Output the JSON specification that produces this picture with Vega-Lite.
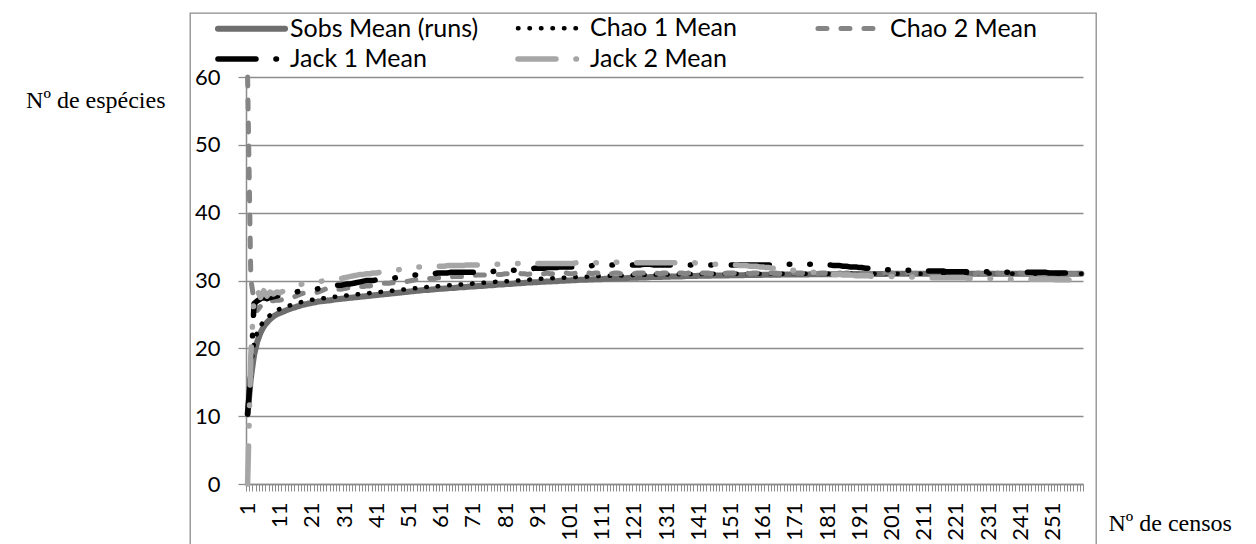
{
  "$schema": "https://vega.github.io/schema/vega-lite/v6.json",
  "width": 906,
  "height": 560,
  "autosize": {"type": "none"},
  "padding": {"left": 190, "top": 13, "right": 160, "bottom": 0},
  "background": "white",
  "config": {
    "view": {"stroke": "#8c8c8c", "strokeWidth": 1.3},
    "font": "Lato"
  },
  "data": {
    "values": [
      {"censo":1,"sobs":10.3,"chao1":10.3,"chao2":60,"jack1":10.3,"jack2":0},
      {"censo":2,"sobs":15.6,"chao1":17.5,"chao2":30.2,"jack1":16.5,"jack2":19.0},
      {"censo":3,"sobs":19.0,"chao1":20.8,"chao2":27.0,"jack1":26.6,"jack2":27.6},
      {"censo":4,"sobs":21.0,"chao1":22.4,"chao2":25.6,"jack1":27.0,"jack2":28.6},
      {"censo":5,"sobs":22.3,"chao1":23.3,"chao2":26.2,"jack1":27.3,"jack2":27.5},
      {"censo":6,"sobs":23.2,"chao1":24.0,"chao2":26.6,"jack1":27.5,"jack2":28.5},
      {"censo":7,"sobs":23.8,"chao1":24.5,"chao2":26.9,"jack1":27.3,"jack2":27.7},
      {"censo":8,"sobs":24.3,"chao1":24.9,"chao2":27.0,"jack1":27.5,"jack2":28.3},
      {"censo":9,"sobs":24.7,"chao1":25.3,"chao2":27.0,"jack1":27.6,"jack2":28.0},
      {"censo":10,"sobs":25.0,"chao1":25.6,"chao2":27.1,"jack1":27.7,"jack2":28.3},
      {"censo":11,"sobs":25.2,"chao1":25.8,"chao2":27.1,"jack1":27.8,"jack2":28.2},
      {"censo":12,"sobs":25.4,"chao1":26.0,"chao2":27.2,"jack1":27.9,"jack2":28.4},
      {"censo":13,"sobs":25.6,"chao1":26.2,"chao2":27.3,"jack1":28.0,"jack2":28.5},
      {"censo":14,"sobs":25.8,"chao1":26.3,"chao2":27.3,"jack1":28.1,"jack2":28.7},
      {"censo":15,"sobs":25.95,"chao1":26.45,"chao2":27.5,"jack1":28.2,"jack2":28.9},
      {"censo":16,"sobs":26.1,"chao1":26.6,"chao2":27.7,"jack1":28.3,"jack2":29.1},
      {"censo":17,"sobs":26.25,"chao1":26.75,"chao2":27.9,"jack1":28.4,"jack2":29.3},
      {"censo":18,"sobs":26.4,"chao1":26.85,"chao2":28.1,"jack1":28.5,"jack2":29.5},
      {"censo":19,"sobs":26.5,"chao1":26.95,"chao2":28.2,"jack1":28.5,"jack2":29.6},
      {"censo":20,"sobs":26.6,"chao1":27.05,"chao2":28.2,"jack1":28.6,"jack2":29.7},
      {"censo":21,"sobs":26.7,"chao1":27.15,"chao2":28.3,"jack1":28.7,"jack2":29.8},
      {"censo":22,"sobs":26.8,"chao1":27.2,"chao2":28.2,"jack1":28.7,"jack2":29.8},
      {"censo":23,"sobs":26.9,"chao1":27.3,"chao2":28.3,"jack1":28.8,"jack2":29.9},
      {"censo":24,"sobs":26.95,"chao1":27.35,"chao2":28.5,"jack1":28.8,"jack2":29.9},
      {"censo":25,"sobs":27.0,"chao1":27.4,"chao2":28.7,"jack1":28.9,"jack2":30.0},
      {"censo":26,"sobs":27.05,"chao1":27.5,"chao2":28.9,"jack1":29.0,"jack2":30.0},
      {"censo":27,"sobs":27.1,"chao1":27.55,"chao2":28.9,"jack1":29.1,"jack2":30.1},
      {"censo":28,"sobs":27.2,"chao1":27.6,"chao2":28.8,"jack1":29.2,"jack2":30.2},
      {"censo":29,"sobs":27.25,"chao1":27.65,"chao2":28.7,"jack1":29.3,"jack2":30.3},
      {"censo":30,"sobs":27.3,"chao1":27.7,"chao2":28.7,"jack1":29.3,"jack2":30.3},
      {"censo":31,"sobs":27.35,"chao1":27.75,"chao2":28.8,"jack1":29.4,"jack2":30.4},
      {"censo":32,"sobs":27.4,"chao1":27.8,"chao2":28.9,"jack1":29.5,"jack2":30.5},
      {"censo":33,"sobs":27.45,"chao1":27.85,"chao2":29.0,"jack1":29.5,"jack2":30.6},
      {"censo":34,"sobs":27.5,"chao1":27.9,"chao2":29.0,"jack1":29.6,"jack2":30.7},
      {"censo":35,"sobs":27.55,"chao1":27.95,"chao2":29.0,"jack1":29.7,"jack2":30.8},
      {"censo":36,"sobs":27.6,"chao1":28.0,"chao2":29.1,"jack1":29.8,"jack2":30.9},
      {"censo":37,"sobs":27.65,"chao1":28.05,"chao2":29.1,"jack1":29.9,"jack2":30.9},
      {"censo":38,"sobs":27.7,"chao1":28.1,"chao2":29.2,"jack1":30.0,"jack2":31.0},
      {"censo":39,"sobs":27.75,"chao1":28.15,"chao2":29.2,"jack1":30.0,"jack2":31.0},
      {"censo":40,"sobs":27.8,"chao1":28.2,"chao2":29.3,"jack1":30.0,"jack2":31.1},
      {"censo":41,"sobs":27.85,"chao1":28.25,"chao2":29.4,"jack1":30.1,"jack2":31.1},
      {"censo":42,"sobs":27.9,"chao1":28.3,"chao2":29.5,"jack1":30.1,"jack2":31.2},
      {"censo":43,"sobs":27.95,"chao1":28.35,"chao2":29.6,"jack1":30.1,"jack2":31.2},
      {"censo":44,"sobs":28.0,"chao1":28.4,"chao2":29.6,"jack1":30.2,"jack2":31.3},
      {"censo":45,"sobs":28.05,"chao1":28.45,"chao2":29.6,"jack1":30.2,"jack2":31.3},
      {"censo":46,"sobs":28.1,"chao1":28.5,"chao2":29.7,"jack1":30.3,"jack2":31.4},
      {"censo":47,"sobs":28.15,"chao1":28.55,"chao2":29.6,"jack1":30.4,"jack2":31.5},
      {"censo":48,"sobs":28.2,"chao1":28.6,"chao2":29.6,"jack1":30.5,"jack2":31.6},
      {"censo":49,"sobs":28.25,"chao1":28.65,"chao2":29.7,"jack1":30.6,"jack2":31.7},
      {"censo":50,"sobs":28.3,"chao1":28.7,"chao2":29.8,"jack1":30.6,"jack2":31.8},
      {"censo":51,"sobs":28.35,"chao1":28.75,"chao2":29.9,"jack1":30.7,"jack2":31.8},
      {"censo":52,"sobs":28.4,"chao1":28.8,"chao2":30.0,"jack1":30.7,"jack2":31.9},
      {"censo":53,"sobs":28.45,"chao1":28.85,"chao2":30.1,"jack1":30.8,"jack2":31.9},
      {"censo":54,"sobs":28.5,"chao1":28.9,"chao2":30.1,"jack1":30.8,"jack2":32.0},
      {"censo":55,"sobs":28.55,"chao1":28.95,"chao2":30.2,"jack1":30.9,"jack2":32.0},
      {"censo":56,"sobs":28.6,"chao1":29.0,"chao2":30.2,"jack1":30.9,"jack2":32.0},
      {"censo":57,"sobs":28.6,"chao1":29.05,"chao2":30.3,"jack1":31.0,"jack2":32.1},
      {"censo":58,"sobs":28.65,"chao1":29.1,"chao2":30.3,"jack1":31.0,"jack2":32.1},
      {"censo":59,"sobs":28.7,"chao1":29.1,"chao2":30.3,"jack1":31.0,"jack2":32.1},
      {"censo":60,"sobs":28.75,"chao1":29.15,"chao2":30.4,"jack1":31.1,"jack2":32.1},
      {"censo":61,"sobs":28.8,"chao1":29.2,"chao2":30.4,"jack1":31.1,"jack2":32.1},
      {"censo":62,"sobs":28.8,"chao1":29.25,"chao2":30.5,"jack1":31.1,"jack2":32.1},
      {"censo":63,"sobs":28.85,"chao1":29.3,"chao2":30.5,"jack1":31.1,"jack2":32.2},
      {"censo":64,"sobs":28.9,"chao1":29.3,"chao2":30.5,"jack1":31.2,"jack2":32.2},
      {"censo":65,"sobs":28.9,"chao1":29.35,"chao2":30.6,"jack1":31.2,"jack2":32.2},
      {"censo":66,"sobs":28.95,"chao1":29.4,"chao2":30.6,"jack1":31.2,"jack2":32.2},
      {"censo":67,"sobs":29.0,"chao1":29.4,"chao2":30.6,"jack1":31.2,"jack2":32.2},
      {"censo":68,"sobs":29.0,"chao1":29.45,"chao2":30.6,"jack1":31.2,"jack2":32.2},
      {"censo":69,"sobs":29.05,"chao1":29.5,"chao2":30.7,"jack1":31.2,"jack2":32.3},
      {"censo":70,"sobs":29.1,"chao1":29.5,"chao2":30.7,"jack1":31.2,"jack2":32.3},
      {"censo":71,"sobs":29.1,"chao1":29.55,"chao2":30.7,"jack1":31.2,"jack2":32.3},
      {"censo":72,"sobs":29.15,"chao1":29.6,"chao2":30.8,"jack1":31.2,"jack2":32.3},
      {"censo":73,"sobs":29.2,"chao1":29.6,"chao2":30.8,"jack1":31.3,"jack2":32.3},
      {"censo":74,"sobs":29.2,"chao1":29.65,"chao2":30.8,"jack1":31.3,"jack2":32.3},
      {"censo":75,"sobs":29.25,"chao1":29.7,"chao2":30.8,"jack1":31.3,"jack2":32.3},
      {"censo":76,"sobs":29.3,"chao1":29.7,"chao2":30.9,"jack1":31.3,"jack2":32.4},
      {"censo":77,"sobs":29.3,"chao1":29.75,"chao2":30.9,"jack1":31.3,"jack2":32.4},
      {"censo":78,"sobs":29.35,"chao1":29.8,"chao2":30.9,"jack1":31.4,"jack2":32.4},
      {"censo":79,"sobs":29.4,"chao1":29.8,"chao2":30.9,"jack1":31.4,"jack2":32.4},
      {"censo":80,"sobs":29.4,"chao1":29.85,"chao2":30.9,"jack1":31.4,"jack2":32.4},
      {"censo":81,"sobs":29.45,"chao1":29.9,"chao2":31.0,"jack1":31.4,"jack2":32.4},
      {"censo":82,"sobs":29.5,"chao1":29.9,"chao2":31.0,"jack1":31.5,"jack2":32.4},
      {"censo":83,"sobs":29.5,"chao1":29.95,"chao2":30.9,"jack1":31.5,"jack2":32.5},
      {"censo":84,"sobs":29.55,"chao1":30.0,"chao2":31.0,"jack1":31.5,"jack2":32.5},
      {"censo":85,"sobs":29.6,"chao1":30.0,"chao2":31.1,"jack1":31.6,"jack2":32.5},
      {"censo":86,"sobs":29.6,"chao1":30.05,"chao2":31.0,"jack1":31.6,"jack2":32.5},
      {"censo":87,"sobs":29.65,"chao1":30.1,"chao2":31.0,"jack1":31.7,"jack2":32.4},
      {"censo":88,"sobs":29.7,"chao1":30.1,"chao2":30.9,"jack1":31.7,"jack2":32.5},
      {"censo":89,"sobs":29.7,"chao1":30.15,"chao2":31.0,"jack1":31.7,"jack2":32.5},
      {"censo":90,"sobs":29.75,"chao1":30.2,"chao2":31.0,"jack1":31.8,"jack2":32.5},
      {"censo":91,"sobs":29.75,"chao1":30.2,"chao2":31.1,"jack1":31.8,"jack2":32.5},
      {"censo":92,"sobs":29.8,"chao1":30.25,"chao2":31.0,"jack1":31.8,"jack2":32.5},
      {"censo":93,"sobs":29.8,"chao1":30.25,"chao2":31.0,"jack1":31.8,"jack2":32.5},
      {"censo":94,"sobs":29.85,"chao1":30.3,"chao2":31.1,"jack1":31.9,"jack2":32.5},
      {"censo":95,"sobs":29.85,"chao1":30.3,"chao2":31.0,"jack1":31.9,"jack2":32.5},
      {"censo":96,"sobs":29.9,"chao1":30.35,"chao2":31.0,"jack1":31.9,"jack2":32.5},
      {"censo":97,"sobs":29.9,"chao1":30.35,"chao2":31.1,"jack1":31.9,"jack2":32.5},
      {"censo":98,"sobs":29.95,"chao1":30.4,"chao2":31.0,"jack1":32.0,"jack2":32.5},
      {"censo":99,"sobs":29.95,"chao1":30.4,"chao2":31.0,"jack1":32.0,"jack2":32.5},
      {"censo":100,"sobs":30.0,"chao1":30.45,"chao2":31.1,"jack1":32.0,"jack2":32.5},
      {"censo":101,"sobs":30.0,"chao1":30.45,"chao2":31.0,"jack1":32.0,"jack2":32.5},
      {"censo":102,"sobs":30.05,"chao1":30.5,"chao2":31.0,"jack1":32.0,"jack2":32.5},
      {"censo":103,"sobs":30.05,"chao1":30.5,"chao2":31.1,"jack1":32.1,"jack2":32.6},
      {"censo":104,"sobs":30.1,"chao1":30.5,"chao2":31.0,"jack1":32.1,"jack2":32.6},
      {"censo":105,"sobs":30.1,"chao1":30.55,"chao2":31.0,"jack1":32.1,"jack2":32.6},
      {"censo":106,"sobs":30.1,"chao1":30.55,"chao2":31.1,"jack1":32.1,"jack2":32.6},
      {"censo":107,"sobs":30.15,"chao1":30.6,"chao2":31.1,"jack1":32.1,"jack2":32.6},
      {"censo":108,"sobs":30.15,"chao1":30.6,"chao2":31.0,"jack1":32.2,"jack2":32.6},
      {"censo":109,"sobs":30.2,"chao1":30.6,"chao2":31.1,"jack1":32.2,"jack2":32.6},
      {"censo":110,"sobs":30.2,"chao1":30.65,"chao2":31.1,"jack1":32.2,"jack2":32.6},
      {"censo":111,"sobs":30.2,"chao1":30.65,"chao2":31.0,"jack1":32.2,"jack2":32.6},
      {"censo":112,"sobs":30.25,"chao1":30.65,"chao2":31.1,"jack1":32.2,"jack2":32.6},
      {"censo":113,"sobs":30.25,"chao1":30.7,"chao2":31.1,"jack1":32.2,"jack2":32.6},
      {"censo":114,"sobs":30.3,"chao1":30.7,"chao2":31.0,"jack1":32.3,"jack2":32.7},
      {"censo":115,"sobs":30.3,"chao1":30.7,"chao2":31.1,"jack1":32.3,"jack2":32.7},
      {"censo":116,"sobs":30.3,"chao1":30.72,"chao2":31.1,"jack1":32.3,"jack2":32.7},
      {"censo":117,"sobs":30.35,"chao1":30.74,"chao2":31.0,"jack1":32.3,"jack2":32.6},
      {"censo":118,"sobs":30.35,"chao1":30.75,"chao2":31.1,"jack1":32.3,"jack2":32.6},
      {"censo":119,"sobs":30.35,"chao1":30.76,"chao2":31.1,"jack1":32.3,"jack2":32.6},
      {"censo":120,"sobs":30.4,"chao1":30.78,"chao2":31.1,"jack1":32.3,"jack2":32.6},
      {"censo":121,"sobs":30.4,"chao1":30.8,"chao2":31.0,"jack1":32.3,"jack2":32.6},
      {"censo":122,"sobs":30.4,"chao1":30.8,"chao2":31.1,"jack1":32.3,"jack2":32.6},
      {"censo":123,"sobs":30.45,"chao1":30.82,"chao2":31.1,"jack1":32.3,"jack2":32.6},
      {"censo":124,"sobs":30.45,"chao1":30.83,"chao2":31.1,"jack1":32.4,"jack2":32.6},
      {"censo":125,"sobs":30.45,"chao1":30.84,"chao2":31.0,"jack1":32.4,"jack2":32.6},
      {"censo":126,"sobs":30.5,"chao1":30.85,"chao2":31.1,"jack1":32.4,"jack2":32.6},
      {"censo":127,"sobs":30.5,"chao1":30.86,"chao2":31.1,"jack1":32.3,"jack2":32.6},
      {"censo":128,"sobs":30.5,"chao1":30.87,"chao2":31.1,"jack1":32.3,"jack2":32.6},
      {"censo":129,"sobs":30.5,"chao1":30.88,"chao2":31.0,"jack1":32.3,"jack2":32.6},
      {"censo":130,"sobs":30.55,"chao1":30.89,"chao2":31.1,"jack1":32.3,"jack2":32.6},
      {"censo":131,"sobs":30.55,"chao1":30.9,"chao2":31.1,"jack1":32.3,"jack2":32.6},
      {"censo":132,"sobs":30.55,"chao1":30.9,"chao2":31.1,"jack1":32.3,"jack2":32.6},
      {"censo":133,"sobs":30.6,"chao1":30.91,"chao2":31.0,"jack1":32.3,"jack2":32.6},
      {"censo":134,"sobs":30.6,"chao1":30.92,"chao2":31.1,"jack1":32.3,"jack2":32.6},
      {"censo":135,"sobs":30.6,"chao1":30.92,"chao2":31.1,"jack1":32.3,"jack2":32.6},
      {"censo":136,"sobs":30.6,"chao1":30.93,"chao2":31.1,"jack1":32.3,"jack2":32.6},
      {"censo":137,"sobs":30.65,"chao1":30.94,"chao2":31.0,"jack1":32.3,"jack2":32.6},
      {"censo":138,"sobs":30.65,"chao1":30.94,"chao2":31.1,"jack1":32.3,"jack2":32.6},
      {"censo":139,"sobs":30.65,"chao1":30.95,"chao2":31.1,"jack1":32.3,"jack2":32.6},
      {"censo":140,"sobs":30.65,"chao1":30.95,"chao2":31.1,"jack1":32.3,"jack2":32.6},
      {"censo":141,"sobs":30.7,"chao1":30.96,"chao2":31.0,"jack1":32.3,"jack2":32.5},
      {"censo":142,"sobs":30.7,"chao1":30.96,"chao2":31.1,"jack1":32.3,"jack2":32.5},
      {"censo":143,"sobs":30.7,"chao1":30.97,"chao2":31.1,"jack1":32.3,"jack2":32.5},
      {"censo":144,"sobs":30.7,"chao1":30.97,"chao2":31.1,"jack1":32.3,"jack2":32.5},
      {"censo":145,"sobs":30.72,"chao1":30.97,"chao2":31.0,"jack1":32.3,"jack2":32.4},
      {"censo":146,"sobs":30.72,"chao1":30.98,"chao2":31.1,"jack1":32.3,"jack2":32.4},
      {"censo":147,"sobs":30.74,"chao1":30.98,"chao2":31.1,"jack1":32.3,"jack2":32.4},
      {"censo":148,"sobs":30.74,"chao1":30.98,"chao2":31.1,"jack1":32.3,"jack2":32.4},
      {"censo":149,"sobs":30.75,"chao1":30.99,"chao2":31.0,"jack1":32.3,"jack2":32.4},
      {"censo":150,"sobs":30.75,"chao1":30.99,"chao2":31.1,"jack1":32.3,"jack2":32.3},
      {"censo":151,"sobs":30.76,"chao1":31.0,"chao2":31.1,"jack1":32.3,"jack2":32.3},
      {"censo":152,"sobs":30.77,"chao1":31.0,"chao2":31.1,"jack1":32.3,"jack2":32.3},
      {"censo":153,"sobs":30.78,"chao1":31.0,"chao2":31.0,"jack1":32.3,"jack2":32.3},
      {"censo":154,"sobs":30.78,"chao1":31.0,"chao2":31.1,"jack1":32.3,"jack2":32.2},
      {"censo":155,"sobs":30.79,"chao1":31.0,"chao2":31.1,"jack1":32.3,"jack2":32.2},
      {"censo":156,"sobs":30.8,"chao1":31.0,"chao2":31.1,"jack1":32.3,"jack2":32.2},
      {"censo":157,"sobs":30.8,"chao1":31.0,"chao2":31.0,"jack1":32.3,"jack2":32.1},
      {"censo":158,"sobs":30.81,"chao1":31.0,"chao2":31.1,"jack1":32.3,"jack2":32.1},
      {"censo":159,"sobs":30.82,"chao1":31.0,"chao2":31.1,"jack1":32.3,"jack2":32.1},
      {"censo":160,"sobs":30.82,"chao1":31.0,"chao2":31.1,"jack1":32.3,"jack2":32.0},
      {"censo":161,"sobs":30.83,"chao1":31.0,"chao2":31.1,"jack1":32.3,"jack2":32.0},
      {"censo":162,"sobs":30.84,"chao1":31.0,"chao2":31.0,"jack1":32.3,"jack2":31.9},
      {"censo":163,"sobs":30.84,"chao1":31.0,"chao2":31.1,"jack1":32.3,"jack2":31.9},
      {"censo":164,"sobs":30.85,"chao1":31.0,"chao2":31.1,"jack1":32.3,"jack2":31.8},
      {"censo":165,"sobs":30.86,"chao1":31.0,"chao2":31.1,"jack1":32.3,"jack2":31.8},
      {"censo":166,"sobs":30.86,"chao1":31.0,"chao2":31.0,"jack1":32.4,"jack2":31.7},
      {"censo":167,"sobs":30.87,"chao1":31.0,"chao2":31.1,"jack1":32.4,"jack2":31.7},
      {"censo":168,"sobs":30.87,"chao1":31.0,"chao2":31.1,"jack1":32.4,"jack2":31.6},
      {"censo":169,"sobs":30.88,"chao1":31.0,"chao2":31.1,"jack1":32.4,"jack2":31.6},
      {"censo":170,"sobs":30.88,"chao1":31.0,"chao2":31.0,"jack1":32.4,"jack2":31.5},
      {"censo":171,"sobs":30.89,"chao1":31.0,"chao2":31.1,"jack1":32.4,"jack2":31.5},
      {"censo":172,"sobs":30.89,"chao1":31.0,"chao2":31.1,"jack1":32.4,"jack2":31.4},
      {"censo":173,"sobs":30.9,"chao1":31.0,"chao2":31.1,"jack1":32.4,"jack2":31.4},
      {"censo":174,"sobs":30.9,"chao1":31.0,"chao2":31.0,"jack1":32.4,"jack2":31.3},
      {"censo":175,"sobs":30.9,"chao1":31.0,"chao2":31.1,"jack1":32.4,"jack2":31.3},
      {"censo":176,"sobs":30.91,"chao1":31.0,"chao2":31.1,"jack1":32.4,"jack2":31.2},
      {"censo":177,"sobs":30.91,"chao1":31.0,"chao2":31.1,"jack1":32.4,"jack2":31.2},
      {"censo":178,"sobs":30.92,"chao1":31.0,"chao2":31.0,"jack1":32.4,"jack2":31.1},
      {"censo":179,"sobs":30.92,"chao1":31.0,"chao2":31.1,"jack1":32.4,"jack2":31.1},
      {"censo":180,"sobs":30.92,"chao1":31.0,"chao2":31.1,"jack1":32.4,"jack2":31.0},
      {"censo":181,"sobs":30.93,"chao1":31.0,"chao2":31.1,"jack1":32.3,"jack2":31.0},
      {"censo":182,"sobs":30.93,"chao1":31.0,"chao2":31.0,"jack1":32.3,"jack2":31.0},
      {"censo":183,"sobs":30.93,"chao1":31.0,"chao2":31.1,"jack1":32.2,"jack2":30.9},
      {"censo":184,"sobs":30.94,"chao1":31.0,"chao2":31.1,"jack1":32.2,"jack2":30.9},
      {"censo":185,"sobs":30.94,"chao1":31.0,"chao2":31.1,"jack1":32.2,"jack2":30.9},
      {"censo":186,"sobs":30.94,"chao1":31.0,"chao2":31.0,"jack1":32.1,"jack2":30.8},
      {"censo":187,"sobs":30.95,"chao1":31.0,"chao2":31.1,"jack1":32.1,"jack2":30.8},
      {"censo":188,"sobs":30.95,"chao1":31.0,"chao2":31.1,"jack1":32.0,"jack2":30.8},
      {"censo":189,"sobs":30.95,"chao1":31.0,"chao2":31.1,"jack1":32.0,"jack2":30.8},
      {"censo":190,"sobs":30.95,"chao1":31.0,"chao2":31.0,"jack1":32.0,"jack2":30.7},
      {"censo":191,"sobs":30.96,"chao1":31.0,"chao2":31.1,"jack1":31.9,"jack2":30.7},
      {"censo":192,"sobs":30.96,"chao1":31.0,"chao2":31.1,"jack1":31.9,"jack2":30.7},
      {"censo":193,"sobs":30.96,"chao1":31.0,"chao2":31.1,"jack1":31.8,"jack2":30.7},
      {"censo":194,"sobs":30.96,"chao1":31.0,"chao2":31.0,"jack1":31.8,"jack2":30.7},
      {"censo":195,"sobs":30.97,"chao1":31.0,"chao2":31.1,"jack1":31.8,"jack2":30.6},
      {"censo":196,"sobs":30.97,"chao1":31.0,"chao2":31.1,"jack1":31.7,"jack2":30.6},
      {"censo":197,"sobs":30.97,"chao1":31.0,"chao2":31.1,"jack1":31.7,"jack2":30.6},
      {"censo":198,"sobs":30.97,"chao1":31.0,"chao2":31.0,"jack1":31.7,"jack2":30.6},
      {"censo":199,"sobs":30.97,"chao1":31.0,"chao2":31.1,"jack1":31.6,"jack2":30.6},
      {"censo":200,"sobs":30.98,"chao1":31.0,"chao2":31.1,"jack1":31.6,"jack2":30.6},
      {"censo":201,"sobs":30.98,"chao1":31.0,"chao2":31.1,"jack1":31.6,"jack2":30.6},
      {"censo":202,"sobs":30.98,"chao1":31.0,"chao2":31.0,"jack1":31.6,"jack2":30.6},
      {"censo":203,"sobs":30.98,"chao1":31.0,"chao2":31.1,"jack1":31.5,"jack2":30.6},
      {"censo":204,"sobs":30.98,"chao1":31.0,"chao2":31.1,"jack1":31.5,"jack2":30.6},
      {"censo":205,"sobs":30.98,"chao1":31.0,"chao2":31.0,"jack1":31.5,"jack2":30.5},
      {"censo":206,"sobs":30.98,"chao1":31.0,"chao2":31.1,"jack1":31.5,"jack2":30.5},
      {"censo":207,"sobs":30.98,"chao1":31.0,"chao2":31.1,"jack1":31.5,"jack2":30.5},
      {"censo":208,"sobs":30.98,"chao1":31.0,"chao2":31.0,"jack1":31.4,"jack2":30.5},
      {"censo":209,"sobs":30.98,"chao1":31.0,"chao2":31.1,"jack1":31.4,"jack2":30.5},
      {"censo":210,"sobs":30.98,"chao1":31.0,"chao2":31.0,"jack1":31.4,"jack2":30.5},
      {"censo":211,"sobs":30.98,"chao1":31.0,"chao2":31.1,"jack1":31.4,"jack2":30.5},
      {"censo":212,"sobs":30.98,"chao1":31.0,"chao2":31.0,"jack1":31.4,"jack2":30.5},
      {"censo":213,"sobs":30.98,"chao1":31.0,"chao2":31.0,"jack1":31.4,"jack2":30.4},
      {"censo":214,"sobs":30.98,"chao1":31.0,"chao2":31.1,"jack1":31.4,"jack2":30.4},
      {"censo":215,"sobs":30.98,"chao1":31.0,"chao2":31.0,"jack1":31.4,"jack2":30.4},
      {"censo":216,"sobs":30.99,"chao1":31.0,"chao2":31.0,"jack1":31.4,"jack2":30.4},
      {"censo":217,"sobs":30.99,"chao1":31.0,"chao2":31.1,"jack1":31.4,"jack2":30.4},
      {"censo":218,"sobs":30.99,"chao1":31.0,"chao2":31.0,"jack1":31.3,"jack2":30.4},
      {"censo":219,"sobs":30.99,"chao1":31.0,"chao2":31.0,"jack1":31.3,"jack2":30.4},
      {"censo":220,"sobs":30.99,"chao1":31.0,"chao2":31.1,"jack1":31.3,"jack2":30.4},
      {"censo":221,"sobs":30.99,"chao1":31.0,"chao2":31.0,"jack1":31.3,"jack2":30.4},
      {"censo":222,"sobs":30.99,"chao1":31.0,"chao2":31.1,"jack1":31.3,"jack2":30.4},
      {"censo":223,"sobs":30.99,"chao1":31.0,"chao2":31.0,"jack1":31.3,"jack2":30.4},
      {"censo":224,"sobs":30.99,"chao1":31.0,"chao2":31.0,"jack1":31.3,"jack2":30.4},
      {"censo":225,"sobs":30.99,"chao1":31.0,"chao2":31.1,"jack1":31.3,"jack2":30.3},
      {"censo":226,"sobs":30.99,"chao1":31.0,"chao2":31.0,"jack1":31.3,"jack2":30.3},
      {"censo":227,"sobs":30.99,"chao1":31.0,"chao2":31.0,"jack1":31.3,"jack2":30.3},
      {"censo":228,"sobs":30.99,"chao1":31.0,"chao2":31.1,"jack1":31.3,"jack2":30.3},
      {"censo":229,"sobs":30.99,"chao1":31.0,"chao2":31.0,"jack1":31.3,"jack2":30.3},
      {"censo":230,"sobs":30.99,"chao1":31.0,"chao2":31.0,"jack1":31.3,"jack2":30.3},
      {"censo":231,"sobs":31.0,"chao1":31.0,"chao2":31.1,"jack1":31.3,"jack2":30.3},
      {"censo":232,"sobs":31.0,"chao1":31.0,"chao2":31.0,"jack1":31.3,"jack2":30.3},
      {"censo":233,"sobs":31.0,"chao1":31.0,"chao2":31.0,"jack1":31.2,"jack2":30.3},
      {"censo":234,"sobs":31.0,"chao1":31.0,"chao2":31.1,"jack1":31.2,"jack2":30.3},
      {"censo":235,"sobs":31.0,"chao1":31.0,"chao2":31.0,"jack1":31.2,"jack2":30.3},
      {"censo":236,"sobs":31.0,"chao1":31.0,"chao2":31.0,"jack1":31.2,"jack2":30.3},
      {"censo":237,"sobs":31.0,"chao1":31.0,"chao2":31.1,"jack1":31.2,"jack2":30.2},
      {"censo":238,"sobs":31.0,"chao1":31.0,"chao2":31.0,"jack1":31.2,"jack2":30.2},
      {"censo":239,"sobs":31.0,"chao1":31.0,"chao2":31.0,"jack1":31.2,"jack2":30.2},
      {"censo":240,"sobs":31.0,"chao1":31.0,"chao2":31.0,"jack1":31.2,"jack2":30.2},
      {"censo":241,"sobs":31.0,"chao1":31.0,"chao2":31.1,"jack1":31.2,"jack2":30.2},
      {"censo":242,"sobs":31.0,"chao1":31.0,"chao2":31.0,"jack1":31.2,"jack2":30.2},
      {"censo":243,"sobs":31.0,"chao1":31.0,"chao2":31.0,"jack1":31.2,"jack2":30.2},
      {"censo":244,"sobs":31.0,"chao1":31.0,"chao2":31.0,"jack1":31.2,"jack2":30.2},
      {"censo":245,"sobs":31.0,"chao1":31.0,"chao2":31.1,"jack1":31.2,"jack2":30.2},
      {"censo":246,"sobs":31.0,"chao1":31.0,"chao2":31.0,"jack1":31.2,"jack2":30.2},
      {"censo":247,"sobs":31.0,"chao1":31.0,"chao2":31.0,"jack1":31.2,"jack2":30.2},
      {"censo":248,"sobs":31.0,"chao1":31.0,"chao2":31.0,"jack1":31.2,"jack2":30.2},
      {"censo":249,"sobs":31.0,"chao1":31.0,"chao2":31.0,"jack1":31.2,"jack2":30.2},
      {"censo":250,"sobs":31.0,"chao1":31.0,"chao2":31.0,"jack1":31.1,"jack2":30.2},
      {"censo":251,"sobs":31.0,"chao1":31.0,"chao2":31.0,"jack1":31.1,"jack2":30.2},
      {"censo":252,"sobs":31.0,"chao1":31.0,"chao2":31.0,"jack1":31.1,"jack2":30.1},
      {"censo":253,"sobs":31.0,"chao1":31.0,"chao2":31.0,"jack1":31.1,"jack2":30.1},
      {"censo":254,"sobs":31.0,"chao1":31.0,"chao2":31.0,"jack1":31.1,"jack2":30.1},
      {"censo":255,"sobs":31.0,"chao1":31.0,"chao2":31.0,"jack1":31.1,"jack2":30.1},
      {"censo":256,"sobs":31.0,"chao1":31.0,"chao2":31.0,"jack1":31.1,"jack2":30.1},
      {"censo":257,"sobs":31.0,"chao1":31.0,"chao2":31.0,"jack1":31.1,"jack2":30.0},
      {"censo":258,"sobs":31.0,"chao1":31.0,"chao2":31.0,"jack1":31.1,"jack2":30.0},
      {"censo":259,"sobs":31.0,"chao1":31.0,"chao2":31.0,"jack1":31.1,"jack2":30.0},
      {"censo":260,"sobs":31.0,"chao1":31.0,"chao2":31.0,"jack1":31.1,"jack2":30.0}
    ]
  },
  "transform": [
    {"fold": ["sobs", "chao1", "chao2", "jack1", "jack2"], "as": ["serie", "especies"]}
  ],
  "mark": {"type": "line", "strokeCap": "round", "strokeJoin": "round"},
  "encoding": {
    "x": {
      "field": "censo",
      "type": "ordinal",
      "scale": {"type": "band", "range": [56, 893], "paddingInner": 0, "paddingOuter": 0},
      "axis": {
        "title": "Nº de censos",
        "orient": "bottom",
        "offset": -89,
        "tickBand": "extent",
        "labelAngle": -90,
        "labelExpr": "(datum.value - 1) % 10 == 0 ? datum.label : ''",
        "labelOverlap": false,
        "labelFont": "Lato",
        "labelFontSize": 22,
        "labelColor": "#000000",
        "labelPadding": 11,
        "tickSize": 7,
        "tickColor": "#8c8c8c",
        "tickWidth": 1,
        "domainColor": "#8c8c8c",
        "domainWidth": 1.5,
        "grid": false,
        "titleFont": "Liberation Serif",
        "titleFontSize": 24,
        "titleFontWeight": "normal",
        "titleColor": "#000000",
        "titleAngle": 0,
        "titleAlign": "left",
        "titleBaseline": "alphabetic",
        "titleX": 918,
        "titleY": 46
      }
    },
    "y": {
      "field": "especies",
      "type": "quantitative",
      "scale": {"domain": [0, 60], "range": [471, 64], "nice": false},
      "axis": {
        "title": "Nº de espécies",
        "offset": -56,
        "values": [0, 10, 20, 30, 40, 50, 60],
        "grid": true,
        "gridColor": "#8c8c8c",
        "gridWidth": 1.3,
        "tickSize": 8,
        "tickColor": "#8c8c8c",
        "tickWidth": 1.3,
        "domainColor": "#8c8c8c",
        "domainWidth": 1.5,
        "labelFont": "Lato",
        "labelFontSize": 22,
        "labelColor": "#000000",
        "labelPadding": 18,
        "titleFont": "Liberation Serif",
        "titleFontSize": 24,
        "titleFontWeight": "normal",
        "titleColor": "#000000",
        "titleAngle": 0,
        "titleAlign": "right",
        "titleBaseline": "alphabetic",
        "titleX": -81,
        "titleY": 94
      }
    },
    "color": {
      "field": "serie",
      "type": "nominal",
      "scale": {
        "domain": ["sobs", "chao1", "chao2", "jack1", "jack2"],
        "range": ["#6e6e6e", "#000000", "#858585", "#000000", "#a6a6a6"]
      },
      "legend": {
        "title": null,
        "orient": "none",
        "direction": "horizontal",
        "legendX": 47,
        "legendY": 1,
        "columns": 3,
        "gridAlign": "all",
        "columnPadding": 27,
        "rowPadding": 3,
        "symbolType": "M-3,0H3",
        "symbolSize": 500,
        "labelFont": "Lato",
        "labelFontSize": 25,
        "labelColor": "#000000",
        "labelOffset": 24,
        "labelLimit": 400,
        "labelExpr": "datum.label == 'sobs' ? 'Sobs Mean (runs)' : datum.label == 'chao1' ? 'Chao 1 Mean' : datum.label == 'chao2' ? 'Chao 2 Mean' : datum.label == 'jack1' ? 'Jack 1 Mean' : 'Jack 2 Mean'",
        "encode": {"symbols": {"update": {"strokeCap": {"value": "round"}, "fill": {"value": "transparent"}}}}
      }
    },
    "strokeDash": {
      "field": "serie",
      "type": "nominal",
      "scale": {
        "domain": ["sobs", "chao1", "chao2", "jack1", "jack2"],
        "range": [[1, 0], [0.5, 11], [9, 14], [38, 20, 0.5, 20, 0.5, 20], [38, 20, 0.5, 20, 0.5, 20]]
      }
    },
    "strokeWidth": {
      "field": "serie",
      "type": "nominal",
      "scale": {
        "type": "ordinal",
        "domain": ["sobs", "chao1", "chao2", "jack1", "jack2"],
        "range": [6, 4.5, 5, 5.5, 5.5]
      }
    }
  }
}
